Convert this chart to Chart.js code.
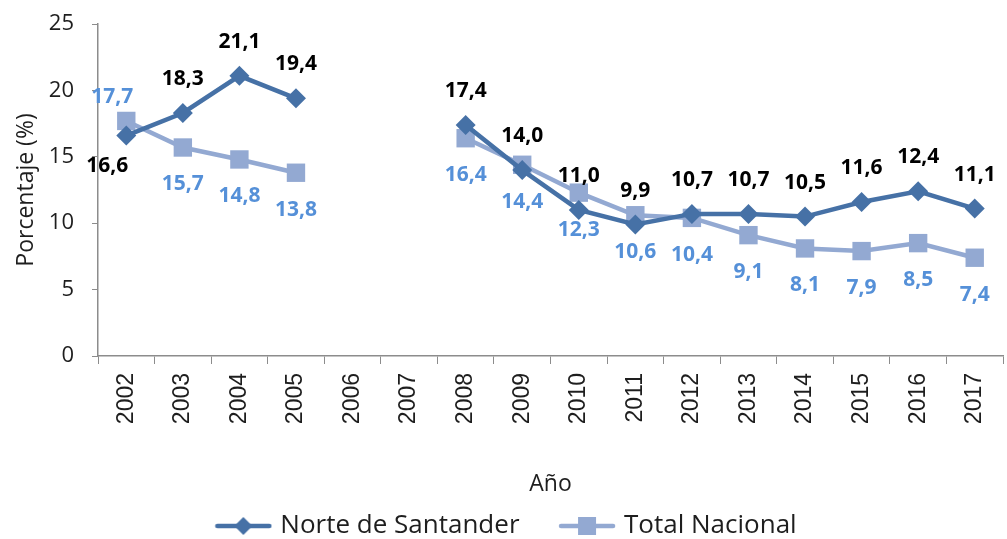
<!DOCTYPE html>
<html>
<head>
<meta charset="utf-8">
<script src="https://cdn.jsdelivr.net/npm/chart.js@4.4.0/dist/chart.umd.min.js"></script>
<style>
  html, body { margin: 0; padding: 0; background: #fff; overflow: hidden; }
  /* el área del gráfico sigue un poco más allá del borde derecho, como en el original */
  #contenedor { width: 1016px; height: 539px; position: relative; }
</style>
</head>
<body>
<div id="contenedor"><canvas id="grafico"></canvas></div>
<script>
// Datos del gráfico
const anos = ['2002', '2003', '2004', '2005', '2006', '2007', '2008', '2009',
              '2010', '2011', '2012', '2013', '2014', '2015', '2016', '2017'];
const norteSantander = [16.6, 18.3, 21.1, 19.4, null, null, 17.4, 14.0,
                        11.0, 9.9, 10.7, 10.7, 10.5, 11.6, 12.4, 11.1];
const totalNacional = [17.7, 15.7, 14.8, 13.8, null, null, 16.4, 14.4,
                       12.3, 10.6, 10.4, 9.1, 8.1, 7.9, 8.5, 7.4];
const ticksY = [0, 5, 10, 15, 20, 25];

const azulOscuro = '#4671A6';
const azulClaro = '#93A9D2';
const azulEtiqueta = '#5590D8';
const gris = '#8C8C8C';
const texto = '#1e1e1e';
const fuente = '"Open Sans", "DejaVu Sans", sans-serif';

// Icono de leyenda: línea con marcador
function iconoLeyenda(color, forma) {
  const c = document.createElement('canvas');
  c.width = 58; c.height = 24;
  const g = c.getContext('2d');
  g.strokeStyle = color; g.lineWidth = 4.5; g.lineCap = 'round';
  g.beginPath(); g.moveTo(3, 12); g.lineTo(55, 12); g.stroke();
  g.fillStyle = color;
  g.beginPath();
  if (forma === 'rombo') {
    g.moveTo(29, 3); g.lineTo(38, 12); g.lineTo(29, 21); g.lineTo(20, 12);
  } else {
    g.rect(20, 3, 18, 18);
  }
  g.closePath(); g.fill();
  return c;
}

// Etiquetas de valores (encima para Norte, debajo para Total)
const ajustes = { 0: [[-19, 30], [-14, -24]] }; // 2002: las etiquetas se corren a la izquierda
const etiquetas = {
  id: 'etiquetas',
  afterDatasetsDraw(chart) {
    const ctx = chart.ctx;
    ctx.save();
    ctx.font = 'bold 21px ' + fuente;
    ctx.textAlign = 'center';
    ctx.textBaseline = 'middle';
    chart.data.datasets.forEach((ds, i) => {
      const meta = chart.getDatasetMeta(i);
      meta.data.forEach((pt, j) => {
        const v = ds.data[j];
        if (v === null) return;
        let dx = 0, dy = i === 0 ? -34 : 37;
        if (ajustes[j]) { dx = ajustes[j][i][0]; dy = ajustes[j][i][1]; }
        ctx.fillStyle = i === 0 ? '#000' : azulEtiqueta;
        ctx.fillText(v.toFixed(1).replace('.', ','), pt.x + dx, pt.y + dy);
      });
    });
    ctx.restore();
  }
};

new Chart(document.getElementById('grafico'), {
  type: 'line',
  data: {
    labels: anos,
    datasets: [
      {
        label: 'Norte de Santander',
        data: norteSantander,
        borderColor: azulOscuro,
        backgroundColor: azulOscuro,
        borderWidth: 4.5,
        pointStyle: 'rectRot',
        pointRadius: 10,
        pointBorderWidth: 0,
        tension: 0,
        spanGaps: false
      },
      {
        label: 'Total Nacional',
        data: totalNacional,
        borderColor: azulClaro,
        backgroundColor: azulClaro,
        borderWidth: 4.5,
        pointStyle: 'rect',
        pointRadius: 13,
        pointBorderWidth: 0,
        tension: 0,
        spanGaps: false
      }
    ]
  },
  options: {
    responsive: true,
    maintainAspectRatio: false,
    animation: false,
    layout: { padding: { top: 24, left: 0, right: 0, bottom: -10 } },
    plugins: {
      tooltip: { enabled: false },
      legend: {
        position: 'bottom',
        labels: {
          usePointStyle: true,
          pointStyleWidth: 48,
          boxHeight: 24,
          padding: 3,
          color: texto,
          font: { family: fuente, size: 26 },
          generateLabels: (chart) => chart.data.datasets.map((ds, i) => ({
            // espacios al final para separar las dos entradas
            text: i === 0 ? ds.label + '\u00a0\u00a0\u00a0\u00a0\u00a0\u00a0' : ds.label,
            pointStyle: iconoLeyenda(ds.borderColor, i === 0 ? 'rombo' : 'cuadro'),
            fillStyle: ds.borderColor,
            strokeStyle: ds.borderColor,
            lineWidth: 0,
            fontColor: texto,
            datasetIndex: i
          }))
        }
      }
    },
    scales: {
      x: {
        offset: true,
        afterFit: (s) => { s.height = 154; },
        grid: { offset: true, drawOnChartArea: false, drawTicks: true, tickLength: 8, color: gris },
        border: { color: gris, width: 1.5 },
        ticks: { color: texto, font: { family: '"Liberation Sans", Arial, sans-serif', size: 23 }, minRotation: 90, maxRotation: 90, padding: 9 },
        title: { display: true, text: 'Año', color: texto, font: { family: fuente, size: 23 }, padding: { top: 10, bottom: 12 } }
      },
      y: {
        min: 0,
        max: 25,
        afterBuildTicks: (s) => { s.ticks = ticksY.map(v => ({ value: v })); },
        afterFit: (s) => { s.width = 98; s.paddingTop = 0; s.paddingBottom = 0; },
        grid: { drawOnChartArea: false, drawTicks: true, tickLength: 6, color: gris },
        border: { color: gris, width: 1.5 },
        ticks: { color: texto, font: { family: fuente, size: 22 }, padding: 18 },
        title: { display: true, text: 'Porcentaje (%)', color: texto, font: { family: fuente, size: 23 }, padding: { top: 13, bottom: 0 } }
      }
    }
  },
  plugins: [etiquetas]
});
</script>
</body>
</html>
